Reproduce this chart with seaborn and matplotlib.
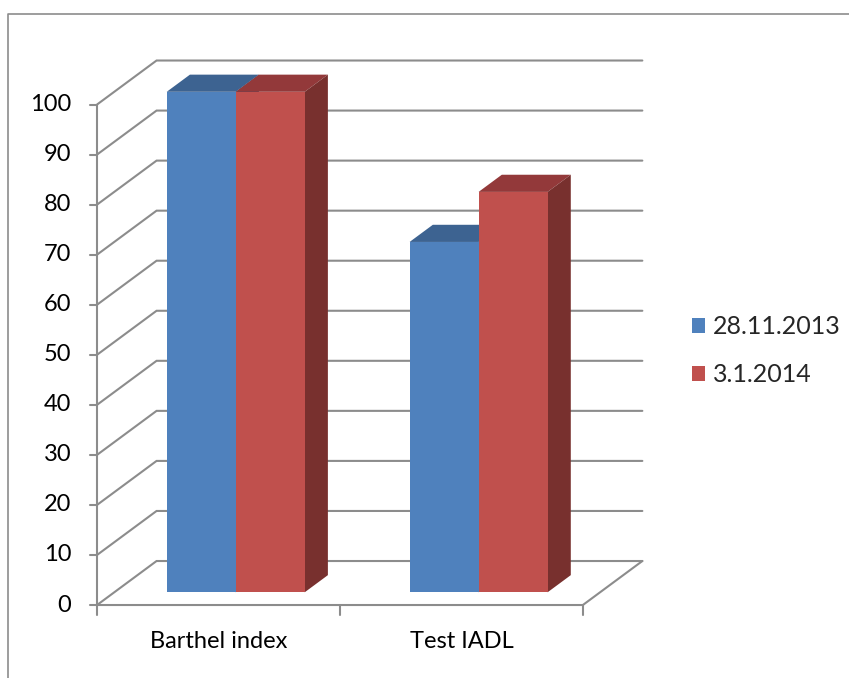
import matplotlib
matplotlib.use("Agg")
import matplotlib.pyplot as plt
from matplotlib.patches import Polygon
from matplotlib.lines import Line2D
import pandas as pd
import seaborn as sns

# --- data -------------------------------------------------------------
tests = ["Barthel index", "Test IADL"]
dates = ["28.11.2013", "3.1.2014"]
scores_first = [100, 70]
scores_second = [100, 80]
y_ticks = list(range(0, 101, 10))

front_colors = ["#4F81BD", "#C0504D"]
top_colors = ["#3D6391", "#93393A"]
side_colors = ["#32527A", "#78302E"]
grid_color = "#8C8C8C"

df = pd.DataFrame({
    "test": tests * 2,
    "date": [dates[0]] * len(tests) + [dates[1]] * len(tests),
    "score": scores_first + scores_second,
})

sns.set_theme(style="white")
plt.rcParams["font.family"] = ["Lato", "DejaVu Sans"]

W, H = 849, 678
fig = plt.figure(figsize=(W / 100, H / 100), dpi=100)
ax = fig.add_axes([0, 0, 1, 1])

# pseudo-3D projection: the bars sit on a plane at depth D0 inside the box
DX = 59.5 / 242.9      # horizontal shift of the full depth (category units)
DY = 44.0 / 5.005      # vertical shift of the full depth (value units)
D0 = 0.289             # depth of the bars' front faces
BD = 0.39              # depth of a bar


def proj(x, v, d):
    return (x + (d - D0) * DX, v + (d - D0) * DY)


sns.barplot(data=df, x="test", y="score", hue="date", order=tests,
            hue_order=dates, palette=front_colors, width=0.568, gap=0,
            saturation=1, legend=False, ax=ax, zorder=3, linewidth=0)

# pixel-aligned data limits
ax.set_xlim((0 - 235.7) / 242.9, (W - 235.7) / 242.9)
ax.set_ylim((592.3 - H) / 5.005, 592.3 / 5.005)
ax.axis("off")

# top and side faces of every bar
bars = list(ax.patches)
bdx, bdy = BD * DX, BD * DY
for i, bar in enumerate(bars):
    k = i // len(tests)
    x0, w, h = bar.get_x(), bar.get_width(), bar.get_height()
    top = Polygon([(x0, h), (x0 + w, h), (x0 + w + bdx, h + bdy), (x0 + bdx, h + bdy)],
                  closed=True, facecolor=top_colors[k], edgecolor="none", zorder=2)
    side = Polygon([(x0 + w, 0), (x0 + w + bdx, bdy), (x0 + w + bdx, h + bdy), (x0 + w, h)],
                   closed=True, facecolor=side_colors[k], edgecolor="none", zorder=2)
    ax.add_patch(top)
    ax.add_patch(side)

# walls, gridlines and floor
xl, xr = -0.5, len(tests) - 0.5
lw = 1.5
for v in y_ticks:
    a, b, c = proj(xl, v, 0), proj(xl, v, 1), proj(xr, v, 1)
    ax.plot([a[0], b[0], c[0]], [a[1], b[1], c[1]], color=grid_color, lw=lw,
            zorder=1, solid_joinstyle="miter")
# front value axis and its ticks
p0, p1 = proj(xl, 0, 0), proj(xl, 100, 0)
ax.plot([p0[0], p1[0]], [p0[1], p1[1]], color=grid_color, lw=lw, zorder=1)
tick_len = 7 / 242.9
for v in y_ticks:
    p = proj(xl, v, 0)
    ax.plot([p[0] - tick_len, p[0]], [p[1], p[1]], color=grid_color, lw=lw, zorder=1)
    ax.text(p[0] - 26 / 242.9, p[1], str(v), ha="right", va="center",
            fontsize=17, color="black")
# floor front and right edges
f0, f1, f2 = proj(xl, 0, 0), proj(xr, 0, 0), proj(xr, 0, 1)
ax.plot([f0[0], f1[0], f2[0]], [f0[1], f1[1], f2[1]], color=grid_color, lw=lw,
        zorder=1, solid_joinstyle="miter")
# category ticks and labels
for j in range(len(tests) + 1):
    p = proj(xl + j, 0, 0)
    ax.plot([p[0], p[0]], [p[1], p[1] - 10 / 5.005], color=grid_color, lw=lw, zorder=1)
for j, name in enumerate(tests):
    p = proj(j, 0, 0)
    ax.text(p[0], p[1] - 36 / 5.005, name, ha="center", va="center",
            fontsize=17, color="black")

# legend
handles = [plt.Rectangle((0, 0), 1, 1, facecolor=c, edgecolor="none") for c in front_colors]
fig.legend(handles, dates, loc="center left", bbox_to_anchor=(692 / W, 1 - 351 / H),
           frameon=False, fontsize=18, handlelength=0.52, handleheight=0.52,
           handletextpad=0.3, labelspacing=1.0, borderpad=0, borderaxespad=0)

# outer chart border
fig.add_artist(Line2D([8 / W, 8 / W, 1], [0, 1 - 14 / H, 1 - 14 / H],
                      transform=fig.transFigure, color="#8C8C8C", lw=1.2))

fig.savefig("out.png", dpi=100)
